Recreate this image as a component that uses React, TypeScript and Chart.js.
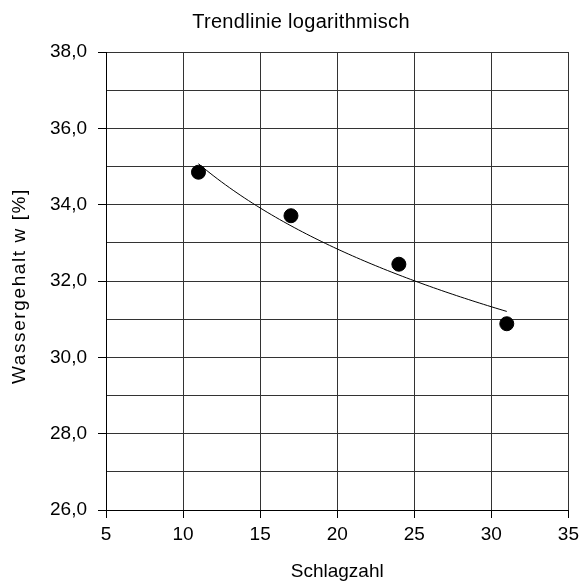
import React, { useEffect, useRef } from "react";
import { Chart, registerables } from "chart.js";

Chart.register(...registerables);

const TITLE = "Trendlinie logarithmisch";
const X_TITLE = "Schlagzahl";
const Y_TITLE = "Wassergehalt w [%]";

const schlagzahl = [11, 17, 24, 31];
const wassergehalt = [34.85, 33.71, 32.44, 30.88];

const X_MIN = 5;
const X_MAX = 35;
const X_STEP = 5;
const Y_MIN = 26;
const Y_MAX = 38;
const Y_STEP = 1;
const Y_LABEL_STEP = 2;

// logarithmic trendline (least squares of y on ln x), as in the spreadsheet
function logTrend(xs: number[], ys: number[]) {
  const n = xs.length;
  const lx = xs.map((x) => Math.log(x));
  const mx = lx.reduce((a, b) => a + b, 0) / n;
  const my = ys.reduce((a, b) => a + b, 0) / n;
  let sxy = 0;
  let sxx = 0;
  for (let i = 0; i < n; i++) {
    sxy += (lx[i] - mx) * (ys[i] - my);
    sxx += (lx[i] - mx) * (lx[i] - mx);
  }
  const b = sxy / sxx;
  const a = my - b * mx;
  const x0 = Math.min(...xs);
  const x1 = Math.max(...xs);
  const pts: { x: number; y: number }[] = [];
  const steps = 80;
  for (let i = 0; i <= steps; i++) {
    const x = x0 + ((x1 - x0) * i) / steps;
    pts.push({ x, y: a + b * Math.log(x) });
  }
  return pts;
}

const FONT = "'Liberation Sans', Arial, Helvetica, sans-serif";

const titlesPlugin = {
  id: "manualTitles",
  afterDraw(chart: any) {
    const ctx = chart.ctx as CanvasRenderingContext2D;
    ctx.save();
    ctx.fillStyle = "#000000";
    ctx.textAlign = "center";
    ctx.textBaseline = "alphabetic";
    // main title
    ctx.font = `20px ${FONT}`;
    (ctx as any).letterSpacing = "0.3px";
    ctx.fillText(TITLE, 301, 28);
    // y axis title
    ctx.font = `19px ${FONT}`;
    (ctx as any).letterSpacing = "1.6px";
    ctx.translate(25, 286);
    ctx.rotate(-Math.PI / 2);
    ctx.fillText(Y_TITLE, 0, 0);
    (ctx as any).letterSpacing = "0px";
    ctx.restore();
  },
};

export default function App() {
  const ref = useRef<HTMLCanvasElement | null>(null);

  useEffect(() => {
    if (!ref.current) return;
    const points = schlagzahl.map((x, i) => ({ x, y: wassergehalt[i] }));
    const trend = logTrend(schlagzahl, wassergehalt);
    const gridColor = "#333333";

    const chart = new Chart(ref.current, {
      type: "scatter",
      data: {
        datasets: [
          {
            label: "Messwerte",
            data: points,
            backgroundColor: "#000000",
            borderColor: "#000000",
            pointRadius: 7,
            pointHoverRadius: 7,
            showLine: false,
            order: 0,
          },
          {
            label: "Trend",
            data: trend,
            borderColor: "#000000",
            borderWidth: 1,
            pointRadius: 0,
            showLine: true,
            fill: false,
            order: 1,
          },
        ],
      },
      plugins: [titlesPlugin],
      options: {
        responsive: false,
        animation: false,
        devicePixelRatio: 1,
        layout: { padding: { left: 0, right: 15, top: 52, bottom: 0 } },
        plugins: {
          legend: { display: false },
          tooltip: { enabled: false },
          title: { display: false },
        },
        scales: {
          x: {
            type: "linear",
            min: X_MIN,
            max: X_MAX,
            ticks: {
              stepSize: X_STEP,
              color: "#000000",
              font: { family: FONT, size: 19 },
              padding: 5,
              maxRotation: 0,
            },
            grid: {
              color: gridColor,
              tickColor: "#000000",
              tickLength: 8,
              lineWidth: 1,
            },
            border: { color: "#000000", width: 1 },
            title: {
              display: true,
              text: X_TITLE,
              color: "#000000",
              font: { family: FONT, size: 19 },
              padding: { top: 4, bottom: 4 },
            },
            afterFit: (scale: any) => {
              scale.height = 77;
            },
          },
          y: {
            type: "linear",
            min: Y_MIN,
            max: Y_MAX,
            ticks: {
              stepSize: Y_STEP,
              color: "#000000",
              font: { family: FONT, size: 19 },
              padding: 11,
              autoSkip: false,
              callback: (v: any) => {
                const n = Number(v);
                if (Math.round(n - Y_MIN) % Y_LABEL_STEP !== 0) return "";
                return n.toFixed(1).replace(".", ",");
              },
            },
            grid: {
              color: gridColor,
              tickColor: (ctx: any) => {
                const n = ctx.tick ? Number(ctx.tick.value) : 0;
                return Math.round(n - Y_MIN) % Y_LABEL_STEP === 0 ? "#000000" : "rgba(0,0,0,0)";
              },
              tickLength: 8,
              lineWidth: 1,
            },
            border: { color: "#000000", width: 1 },
            title: { display: false },
            afterFit: (scale: any) => {
              scale.width = 106;
            },
          },
        },
      },
    } as any);

    return () => chart.destroy();
  }, []);

  return (
    <div style={{ position: "absolute", left: 0, top: 0, width: 584, height: 587, background: "#ffffff" }}>
      <canvas ref={ref} width={584} height={587} style={{ display: "block", width: 584, height: 587 }} />
    </div>
  );
}
